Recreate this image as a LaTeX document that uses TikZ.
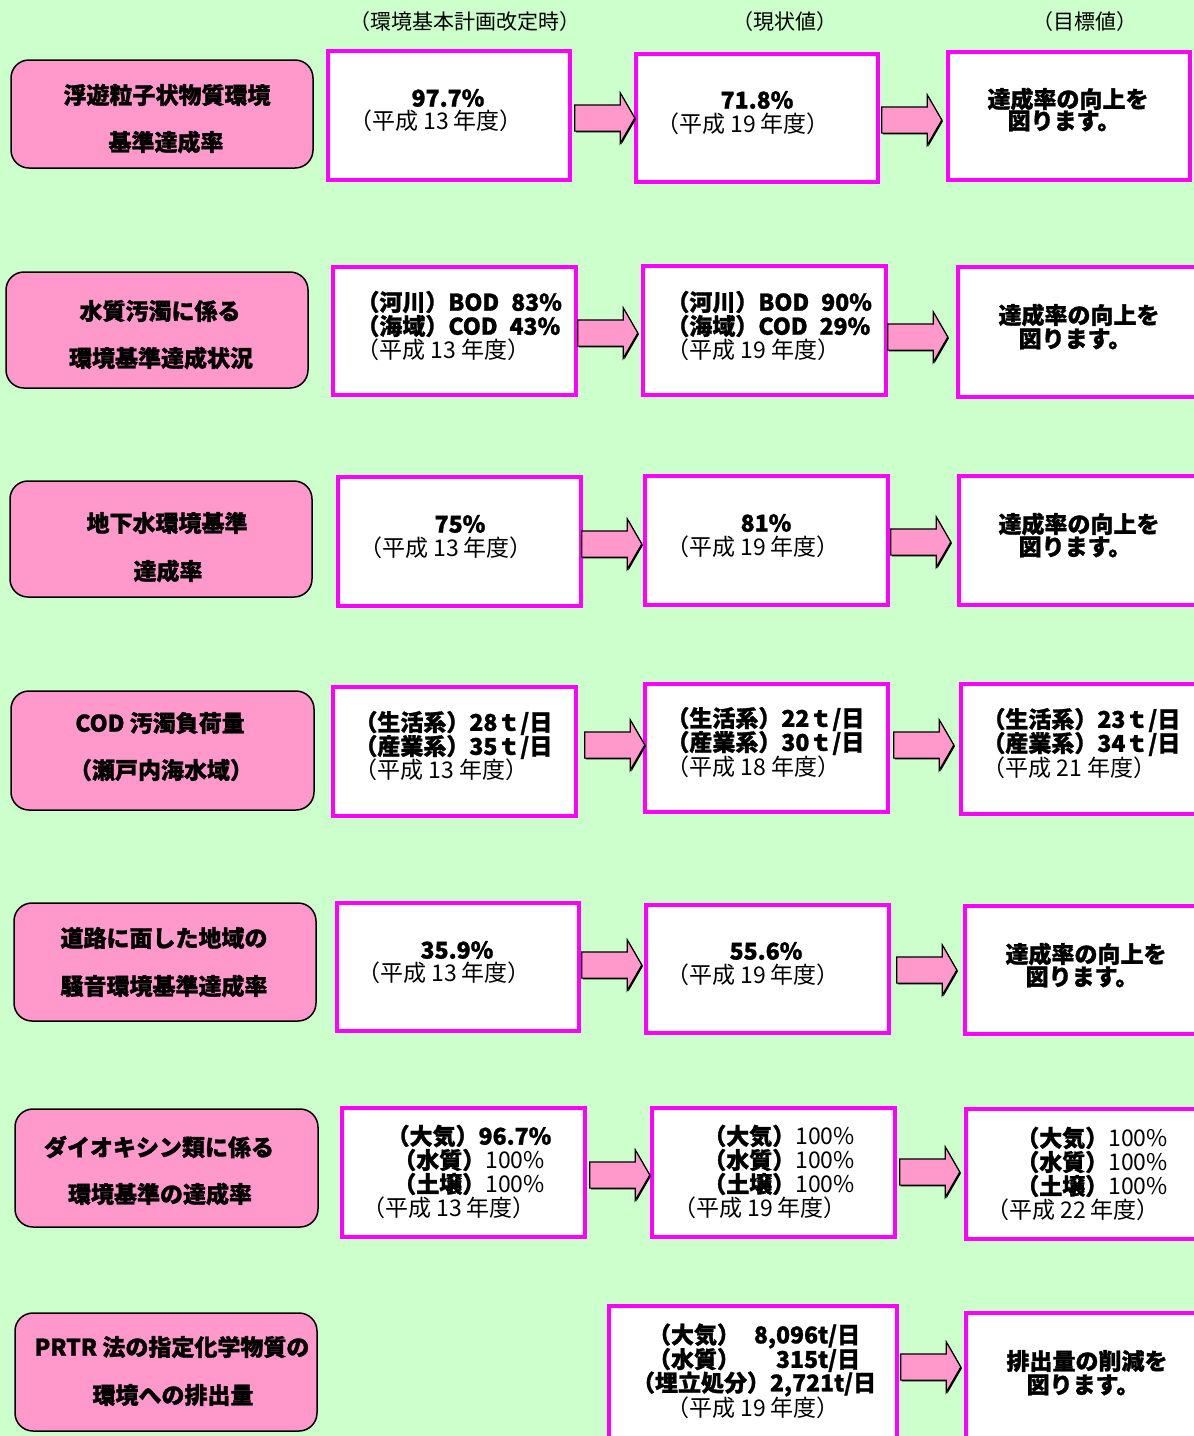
\documentclass[tikz,border=0pt]{standalone}
\usepackage{fontspec}
\setmainfont{Noto Sans CJK JP}[BoldFeatures={FakeBold=1.2}]
\usetikzlibrary{shapes.arrows,shadows,fit}
\definecolor{bgc}{HTML}{CCFFCC}
\definecolor{pinkc}{HTML}{FF99CC}
\definecolor{magc}{HTML}{FF00FF}
\newcommand\Ln[5]{\node[#1] (#2) at (#3,#4) {#5};}
\newcommand\Vb[5]{\node[vbox, fit={(#2,#3) (#4,#5)}] (#1) {};}
\newcommand\Pb[5]{\node[pbox, fit={(#2,#3) (#4,#5)}] (#1) {};}
\begin{document}
\begin{tikzpicture}[x=0.5pt,y=-0.5pt,
  vbox/.style={draw=magc, fill=white, line width=1.8pt, inner sep=0pt},
  pbox/.style={draw=black, fill=pinkc, line width=0.75pt, rounded corners=9pt, inner sep=0pt},
  barrow/.style={single arrow, draw=black, fill=pinkc, line width=0.6pt,
    minimum height=30pt, minimum width=24.5pt, single arrow head extend=6pt,
    text height=12.5pt, text depth=0pt, text width=0pt,
    single arrow tip angle=120, inner sep=0pt,
    drop shadow={shadow xshift=0.6pt, shadow yshift=-0.6pt, fill=black, opacity=1}},
  hd/.style={font=\fontsize{10.5}{12}\selectfont, inner sep=0pt},
  tt/.style={font=\bfseries\fontsize{11.5}{12}\selectfont, inner sep=0pt},
  bt/.style={font=\bfseries\fontsize{11.5}{12}\selectfont, inner sep=0pt},
  mt/.style={font=\fontsize{11.5}{12}\selectfont, inner sep=0pt},
  rt/.style={font=\fontsize{11.5}{12}\selectfont, inner sep=0pt},
]
\useasboundingbox (0,0) rectangle (1194,1436);
\clip (0,0) rectangle (1194,1436);
\fill[bgc] (0,0) rectangle (1194,1436);

% headers
\Ln{hd}{h1}{465}{22}{（環境基本計画改定時）}
\Ln{hd}{h2}{785}{22}{（現状値）}
\Ln{hd}{h3}{1085}{22}{（目標値）}

% pink title boxes
\Pb{p1}{11}{60}{313}{168}
\Pb{p2}{6}{272}{308}{388}
\Pb{p3}{10}{481}{312}{597}
\Pb{p4}{11}{691}{314}{810}
\Pb{p5}{14}{903}{316}{1021}
\Pb{p6}{15}{1109}{318}{1227}
\Pb{p7}{15}{1313}{317}{1431}

\Ln{tt}{p1a}{167}{95}{浮遊粒子状物質環境}
\Ln{tt}{p1b}{166}{142}{基準達成率}
\Ln{tt}{p2a}{160}{311}{水質汚濁に係る}
\Ln{tt}{p2b}{161}{358}{環境基準達成状況}
\Ln{tt}{p3a}{167}{523}{地下水環境基準}
\Ln{tt}{p3b}{168}{571}{達成率}
\Ln{tt}{p4a}{160}{723}{COD 汚濁負荷量}
\Ln{tt}{p4b}{161}{770}{（瀬戸内海水域）}
\Ln{tt}{p5a}{164}{938}{道路に面した地域の}
\Ln{tt}{p5b}{164}{986}{騒音環境基準達成率}
\Ln{tt}{p6a}{159}{1147}{ダイオキシン類に係る}
\Ln{tt}{p6b}{160}{1194}{環境基準の達成率}
\Ln{tt}{p7a}{172}{1347}{PRTR 法の指定化学物質の}
\Ln{tt}{p7b}{173}{1395}{環境への排出量}

% value boxes
\Vb{b11}{328}{51}{570}{180}
\Vb{b12}{636}{54}{878}{182}
\Vb{b13}{948}{52}{1190}{180}
\Vb{b21}{333}{267}{576}{395}
\Vb{b22}{643}{266}{886}{395}
\Vb{b23}{958}{267}{1204}{397}
\Vb{b31}{338}{477}{581}{606}
\Vb{b32}{645}{476}{888}{605}
\Vb{b33}{959}{476}{1204}{605}
\Vb{b41}{333}{687}{576}{816}
\Vb{b42}{645}{684}{888}{812}
\Vb{b43}{961}{684}{1204}{814}
\Vb{b51}{337}{903}{579}{1031}
\Vb{b52}{646}{905}{889}{1033}
\Vb{b53}{965}{906}{1204}{1034}
\Vb{b61}{342}{1108}{585}{1237}
\Vb{b62}{652}{1108}{895}{1237}
\Vb{b63}{966}{1109}{1204}{1239}
\Vb{b72}{609}{1306}{897}{1446}
\Vb{b73}{966}{1313}{1204}{1446}

% arrows
\node[barrow] (a11) at (601,118) {};
\node[barrow] (a12) at (908,120) {};
\node[barrow] (a21) at (604,333) {};
\node[barrow] (a22) at (914,337) {};
\node[barrow] (a31) at (608,544) {};
\node[barrow] (a32) at (917,542) {};
\node[barrow] (a41) at (611,745) {};
\node[barrow] (a42) at (920,745) {};
\node[barrow] (a51) at (608,965) {};
\node[barrow] (a52) at (923,970) {};
\node[barrow] (a61) at (616,1175) {};
\node[barrow] (a62) at (926,1172) {};
\node[barrow] (a72) at (927,1367) {};

% row 1
\Ln{bt}{t11a}{448}{98}{97.7\%}
\Ln{rt}{t11b}{436}{121}{（平成 13 年度）}
\Ln{bt}{t12a}{757}{100}{71.8\%}
\Ln{rt}{t12b}{743}{124}{（平成 19 年度）}
\Ln{bt}{t13a}{1068}{99}{達成率の向上を}
\Ln{bt}{t13b}{1064}{121}{図ります。}
% row 2
\node[bt, anchor=west] (t21a) at (356,302) {（河川）BOD\hspace{6pt}83\%};
\node[bt, anchor=west] (t21b) at (356,326) {（海域）COD\hspace{6pt}43\%};
\node[rt, anchor=west] (t21c) at (356,350) {（平成 13 年度）};
\node[bt, anchor=west] (t22a) at (666,302) {（河川）BOD\hspace{6pt}90\%};
\node[bt, anchor=west] (t22b) at (666,326) {（海域）COD\hspace{6pt}29\%};
\node[rt, anchor=west] (t22c) at (666,350) {（平成 19 年度）};
\Ln{bt}{t23a}{1079}{315}{達成率の向上を}
\Ln{bt}{t23b}{1075}{339}{図ります。}
% row 3
\Ln{bt}{t31a}{460}{524}{75\%}
\Ln{rt}{t31b}{446}{548}{（平成 13 年度）}
\Ln{bt}{t32a}{766}{523}{81\%}
\Ln{rt}{t32b}{753}{547}{（平成 19 年度）}
\Ln{bt}{t33a}{1079}{524}{達成率の向上を}
\Ln{bt}{t33b}{1075}{547}{図ります。}
% row 4
\node[bt, anchor=west] (t41a) at (354,723) {（生活系）28ｔ/日};
\node[bt, anchor=west] (t41b) at (354,747) {（産業系）35ｔ/日};
\node[rt, anchor=west] (t41c) at (354,770) {（平成 13 年度）};
\node[bt, anchor=west] (t42a) at (666,719) {（生活系）22ｔ/日};
\node[bt, anchor=west] (t42b) at (666,743) {（産業系）30ｔ/日};
\node[rt, anchor=west] (t42c) at (666,767) {（平成 18 年度）};
\node[bt, anchor=west] (t43a) at (982,720) {（生活系）23ｔ/日};
\node[bt, anchor=west] (t43b) at (982,744) {（産業系）34ｔ/日};
\node[rt, anchor=west] (t43c) at (982,768) {（平成 21 年度）};
% row 5
\Ln{bt}{t51a}{457}{950}{35.9\%}
\Ln{rt}{t51b}{444}{973}{（平成 13 年度）}
\Ln{bt}{t52a}{766}{951}{55.6\%}
\Ln{rt}{t52b}{753}{975}{（平成 19 年度）}
\Ln{bt}{t53a}{1086}{954}{達成率の向上を}
\Ln{bt}{t53b}{1082}{977}{図ります。}
% row 6
\Ln{bt}{t61a}{469}{1136}{（大気）96.7\%}
\Ln{mt}{t61b}{469}{1160}{\textbf{（水質）}100\%}
\Ln{mt}{t61c}{469}{1184}{\textbf{（土壌）}100\%}
\Ln{rt}{t61d}{449}{1208}{（平成 13 年度）}
\Ln{mt}{t62a}{779}{1136}{\textbf{（大気）}100\%}
\Ln{mt}{t62b}{779}{1160}{\textbf{（水質）}100\%}
\Ln{mt}{t62c}{779}{1184}{\textbf{（土壌）}100\%}
\Ln{rt}{t62d}{760}{1208}{（平成 19 年度）}
\Ln{mt}{t63a}{1092}{1138}{\textbf{（大気）}100\%}
\Ln{mt}{t63b}{1092}{1162}{\textbf{（水質）}100\%}
\Ln{mt}{t63c}{1092}{1186}{\textbf{（土壌）}100\%}
\Ln{rt}{t63d}{1073}{1210}{（平成 22 年度）}
% row 7
\Ln{bt}{t72a}{754}{1336}{\makebox[106pt]{（大気）\hfill 8,096t/日}}
\Ln{bt}{t72b}{754}{1360}{\makebox[106pt]{（水質）\hfill 315t/日}}
\Ln{bt}{t72c}{754}{1384}{（埋立処分）2,721t/日}
\Ln{rt}{t72d}{753}{1408}{（平成 19 年度）}
\Ln{bt}{t73a}{1087}{1361}{排出量の削減を}
\Ln{bt}{t73b}{1083}{1385}{図ります。}
\end{tikzpicture}
\end{document}
